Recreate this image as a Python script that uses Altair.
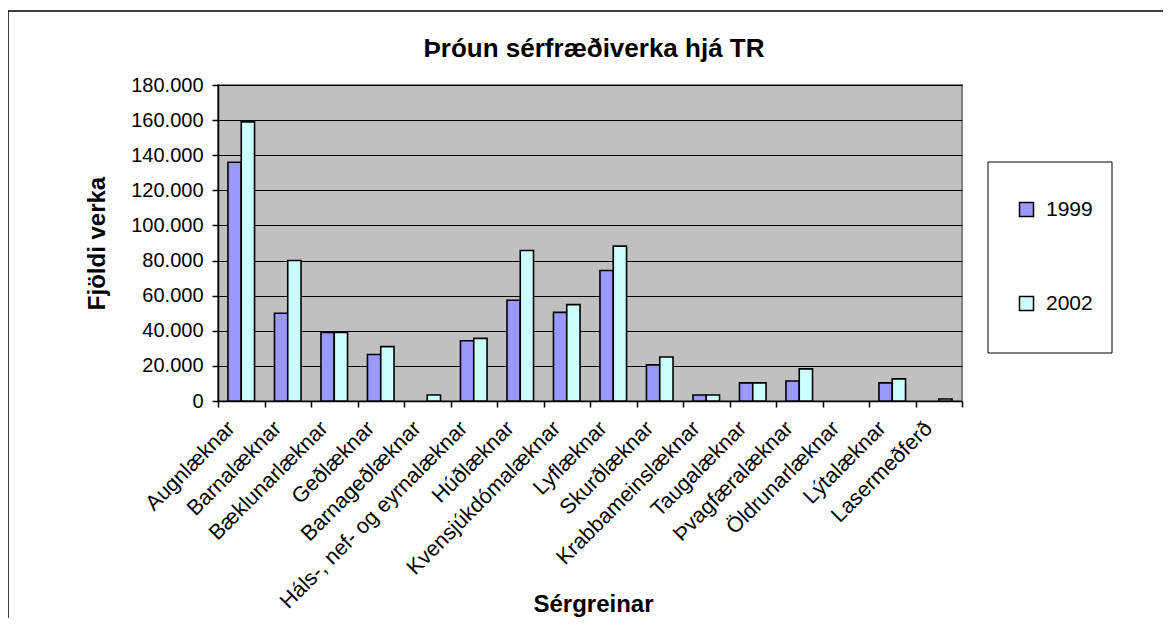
import altair as alt
import pandas as pd

categories = ["Augnlæknar", "Barnalæknar", "Bæklunarlæknar", "Geðlæknar", "Barnageðlæknar",
              "Háls-, nef- og eyrnalæknar", "Húðlæknar", "Kvensjúkdómalæknar", "Lyflæknar",
              "Skurðlæknar", "Krabbameinslæknar", "Taugalæknar", "Þvagfæralæknar",
              "Öldrunarlæknar", "Lýtalæknar", "Lasermeðferð"]
years = ["1999", "2002"]
values_1999 = [136000, 50000, 39000, 26500, 0, 34300, 57400, 50500, 74300, 20600, 3400, 10300, 11400, 0, 10300, 0]
values_2002 = [159000, 80000, 39000, 31000, 3400, 35700, 85700, 54900, 88200, 25100, 3400, 10300, 18300, 0, 12600, 1100]
y_ticks = [0, 20000, 40000, 60000, 80000, 100000, 120000, 140000, 160000, 180000]
colors = ["#9999FF", "#CCFFFF"]

rows = []
for c, a, b in zip(categories, values_1999, values_2002):
    for yr, v in zip(years, [a, b]):
        rows.append({"cat": c, "year": yr, "val": v if v > 0 else None})
df = pd.DataFrame(rows)

FONT = "Liberation Sans"
W, H = 744, 316
PAD_L, PAD_T = 210, 77

bars = alt.Chart(df).mark_bar(stroke="black", strokeWidth=1.6).encode(
    x=alt.X("cat:N", sort=categories, title="Sérgreinar",
            scale=alt.Scale(paddingInner=0, paddingOuter=0),
            axis=alt.Axis(labelAngle=-45, labelAlign="right", labelBaseline="middle",
                          labelPadding=18, labelOffset=-10, labelFontSize=21.5, labelFont=FONT,
                          labelColor="black",
                          tickBand="extent", tickSize=6, tickColor="black", tickWidth=1.5,
                          domainColor="black", domainWidth=1.5, labelLimit=400,
                          titleFont=FONT, titleFontSize=24, titleFontWeight="bold", titleColor="black",
                          titleX=W / 2 + 3, titleY=210, titleBaseline="alphabetic", titleAlign="center")),
    xOffset=alt.XOffset("year:N", scale=alt.Scale(paddingInner=0, paddingOuter=0.75)),
    y=alt.Y("val:Q", title="Fjöldi verka",
            scale=alt.Scale(domain=[0, 180000], nice=False),
            axis=alt.Axis(values=y_ticks, grid=True, gridColor="black", gridWidth=1,
                          labelExpr="replace(format(datum.value, ','), ',', '.')",
                          labelFontSize=20, labelFont=FONT, labelColor="black", labelPadding=9,
                          tickSize=6, tickColor="black", tickWidth=1.5,
                          domainColor="black", domainWidth=1.5,
                          titleFont=FONT, titleFontSize=24, titleFontWeight="bold", titleColor="black",
                          titleX=-121, titleY=H / 2, titleAngle=270, titleAlign="center",
                          titleBaseline="middle")),
    color=alt.Color("year:N", scale=alt.Scale(domain=years, range=colors),
                    legend=alt.Legend(title=None, orient="none", legendX=798, legendY=114,
                                      symbolType="square", symbolSize=196,
                                      symbolStrokeColor="black", symbolStrokeWidth=1.5,
                                      labelFontSize=21, labelFont=FONT, labelColor="black",
                                      labelOffset=9, rowPadding=72, padding=0)),
)

one = pd.DataFrame({"k": [0]})
outer = alt.Chart(one).mark_rect(filled=False, stroke="black", strokeWidth=1.5).encode(
    x=alt.value(-PAD_L), x2=alt.value(1100), y=alt.value(-74), y2=alt.value(700))
legend_box = alt.Chart(one).mark_rect(fill="white", stroke="black", strokeWidth=1).encode(
    x=alt.value(770), x2=alt.value(894), y=alt.value(77), y2=alt.value(268))

chart = alt.layer(outer, bars, legend_box).properties(
    width=W, height=H,
    title=alt.TitleParams("Þróun sérfræðiverka hjá TR", font=FONT, fontSize=26, fontWeight="bold",
                          color="black", anchor="middle", frame="group", offset=-73,
                          baseline="alphabetic", dx=4),
    autosize=alt.AutoSizeParams(type="none"),
    padding={"left": PAD_L, "top": PAD_T, "right": 1155 - PAD_L - W, "bottom": 610 - PAD_T - H},
    background="white",
).configure_view(fill="#C0C0C0", stroke="#808080", strokeWidth=2)

chart.save("out.html", embed_options={"renderer": "svg", "actions": False})
